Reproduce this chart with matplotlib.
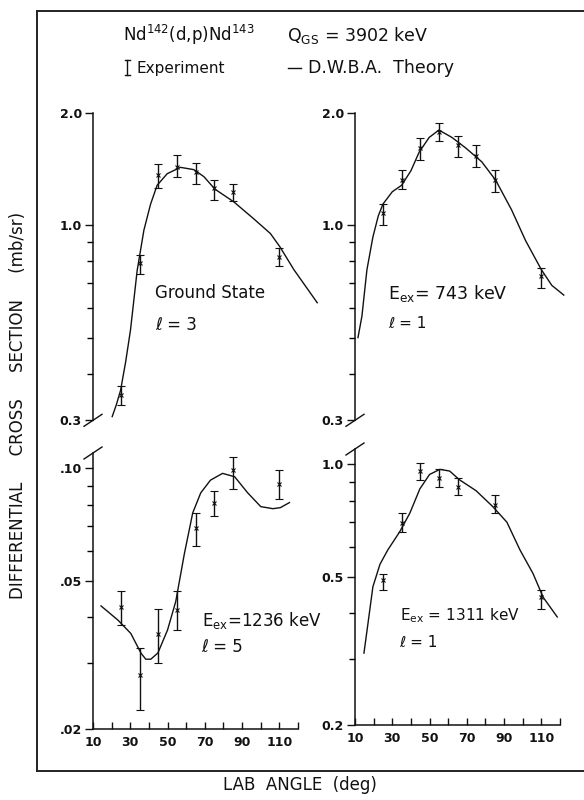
import numpy as np
import matplotlib.pyplot as plt
from matplotlib.lines import Line2D
from matplotlib.ticker import FixedLocator, FixedFormatter, NullFormatter

plt.rcParams['font.family'] = ['DejaVu Sans']
plt.rcParams['mathtext.fontset'] = 'dejavusans'

# measured angles (deg)
angles = [25, 35, 45, 55, 65, 75, 85, 110]
angles_1311 = [25, 35, 45, 55, 65, 85, 110]

# ground state, l=3
gs_val = [0.35, 0.79, 1.36, 1.43, 1.39, 1.26, 1.23, 0.82]
gs_lo = [0.33, 0.74, 1.26, 1.35, 1.29, 1.17, 1.16, 0.78]
gs_hi = [0.37, 0.83, 1.46, 1.54, 1.47, 1.32, 1.29, 0.87]
gs_th_ang = [20.3, 22.5, 24.8, 27.5, 30.1, 33.7, 37.3, 40.9, 44.4, 49.8, 56.9, 64.1, 69.5,
             75.4, 85.6, 96.3, 105.2, 110.3, 117.8, 130.3]
gs_th_val = [0.307, 0.33, 0.361, 0.43, 0.523, 0.757, 0.97, 1.14, 1.28, 1.375, 1.43, 1.41, 1.35,
             1.25, 1.155, 1.04, 0.95, 0.875, 0.76, 0.62]

# Eex = 743 keV, l=1
e743_val = [1.08, 1.32, 1.61, 1.78, 1.64, 1.53, 1.32, 0.73]
e743_lo = [1.00, 1.25, 1.50, 1.68, 1.52, 1.43, 1.23, 0.68]
e743_hi = [1.14, 1.41, 1.71, 1.88, 1.74, 1.64, 1.41, 0.77]
e743_th_ang = [11.6, 13.7, 16.4, 19.6, 22.5, 25, 30, 35, 40, 44.4, 49.8, 55, 62, 69.5,
               78, 85.5, 94, 101.5, 110, 115.6, 122]
e743_th_val = [0.50, 0.57, 0.76, 0.93, 1.06, 1.14, 1.23, 1.28, 1.40, 1.57, 1.72, 1.80, 1.72,
               1.61, 1.48, 1.32, 1.10, 0.91, 0.76, 0.69, 0.65]

# Eex = 1236 keV, l=5
e1236_val = [0.0425, 0.028, 0.036, 0.0417, 0.0692, 0.0807, 0.099, 0.091]
e1236_lo = [0.038, 0.0225, 0.030, 0.037, 0.062, 0.0745, 0.088, 0.083]
e1236_hi = [0.047, 0.033, 0.042, 0.047, 0.076, 0.087, 0.107, 0.099]
e1236_th_ang = [14.3, 23.4, 30.3, 35.7, 38.3, 41, 44.8, 50, 54.4, 59, 63.5, 67.8,
                73, 79.5, 86, 93, 100, 106.5, 110.5, 115.4]
e1236_th_val = [0.0428, 0.0392, 0.0361, 0.0320, 0.0308, 0.0308, 0.032, 0.0369, 0.044,
                0.059, 0.076, 0.086, 0.093, 0.097, 0.095, 0.086, 0.079, 0.078, 0.0785, 0.081]

# Eex = 1311 keV, l=1
e1311_val = [0.49, 0.697, 0.96, 0.92, 0.87, 0.78, 0.44]
e1311_lo = [0.46, 0.66, 0.91, 0.87, 0.83, 0.74, 0.41]
e1311_hi = [0.51, 0.74, 1.01, 0.97, 0.92, 0.83, 0.46]
e1311_th_ang = [14.8, 17, 19.6, 23.4, 27.6, 34, 39.4, 44.8, 50, 55.5, 60.8, 66, 75,
                84, 91.5, 98.5, 105.5, 111, 118.5]
e1311_th_val = [0.312, 0.376, 0.47, 0.54, 0.59, 0.66, 0.74, 0.86, 0.94, 0.97, 0.96,
                0.91, 0.85, 0.77, 0.70, 0.59, 0.51, 0.44, 0.39]

top_ticks = [0.3, 1.0, 2.0]
top_labels = ['0.3', '1.0', '2.0']
top_minor = [0.4, 0.5, 0.6, 0.7, 0.8, 0.9]
bl_ticks = [0.02, 0.05, 0.10]
bl_labels = ['.02', '.05', '.10']
bl_minor = [0.03, 0.04, 0.06, 0.07, 0.08, 0.09]
br_ticks = [0.2, 0.5, 1.0]
br_labels = ['0.2', '0.5', '1.0']
br_minor = [0.3, 0.4, 0.6, 0.7, 0.8, 0.9]
x_labels = [10, 30, 50, 70, 90, 110]
x_minor = [20, 40, 60, 80, 100, 120]

W, H = 584, 800
PPD = 1.864      # px per degree
PPDEC = 373.0    # px per decade
ink = '#111111'

fig = plt.figure(figsize=(W / 100, H / 100), dpi=100)


def add_px_axes(x0, ytop, xmax, ylim):
    x1 = x0 + (xmax - 10) * PPD
    ybot = ytop + PPDEC * np.log10(ylim[1] / ylim[0])
    return fig.add_axes([x0 / W, 1 - ybot / H, (x1 - x0) / W, (ybot - ytop) / H])


def style(ax, ticks, labels, minor, bottom_axis):
    ax.set_yscale('log')
    ax.yaxis.set_major_locator(FixedLocator(ticks))
    ax.yaxis.set_major_formatter(FixedFormatter(labels))
    ax.yaxis.set_minor_locator(FixedLocator(minor))
    ax.yaxis.set_minor_formatter(NullFormatter())
    ax.tick_params(axis='y', which='major', direction='out', length=6, width=1.0,
                   labelsize=9, colors=ink, pad=2)
    ax.tick_params(axis='y', which='minor', direction='out', length=4, width=1.0)
    for lab in ax.get_yticklabels():
        lab.set_fontweight('bold')
    ax.spines['top'].set_visible(False)
    ax.spines['right'].set_visible(False)
    ax.spines['left'].set_color(ink)
    ax.spines['left'].set_linewidth(1.1)
    ax.patch.set_alpha(0)
    if bottom_axis:
        ax.spines['bottom'].set_color(ink)
        ax.spines['bottom'].set_linewidth(1.1)
        ax.xaxis.set_major_locator(FixedLocator(x_labels))
        ax.xaxis.set_minor_locator(FixedLocator(x_minor))
        ax.tick_params(axis='x', which='both', direction='in', length=5, width=1.0,
                       labelsize=9, colors=ink, pad=5)
        for lab in ax.get_xticklabels():
            lab.set_fontweight('bold')
    else:
        ax.spines['bottom'].set_visible(False)
        ax.set_xticks([])


def brk(ax, yfrac):
    bb = ax.get_position()
    dx = 9 / (bb.width * W)
    dy = 6 / (bb.height * H)
    ax.plot([-dx, dx], [yfrac - dy, yfrac + dy], transform=ax.transAxes,
            color=ink, lw=1.0, clip_on=False)


def draw(ax, xs, val, lo, hi, th_x, th_y):
    val = np.array(val)
    err = [val - np.array(lo), np.array(hi) - val]
    ax.plot(th_x, th_y, color=ink, lw=1.0)
    ax.errorbar(xs, val, yerr=err, fmt='x', ms=2.5, mew=0.8, color=ink,
                ecolor=ink, elinewidth=1.0, capsize=2.8, capthick=1.0)


ax_gs = add_px_axes(93, 113, 140, (0.3, 2.0))
ax_gs.set_xlim(10, 140)
ax_gs.set_ylim(0.3, 2.0)
draw(ax_gs, angles, gs_val, gs_lo, gs_hi, gs_th_ang, gs_th_val)
style(ax_gs, top_ticks, top_labels, top_minor, False)
brk(ax_gs, 0.0)

ax_743 = add_px_axes(355, 113, 125, (0.3, 2.0))
ax_743.set_xlim(10, 125)
ax_743.set_ylim(0.3, 2.0)
draw(ax_743, angles, e743_val, e743_lo, e743_hi, e743_th_ang, e743_th_val)
style(ax_743, top_ticks, top_labels, top_minor, False)
brk(ax_743, 0.0)

ax_1236 = add_px_axes(93, 453, 120, (0.02, 0.11))
ax_1236.set_xlim(10, 120)
ax_1236.set_ylim(0.02, 0.11)
draw(ax_1236, angles, e1236_val, e1236_lo, e1236_hi, e1236_th_ang, e1236_th_val)
style(ax_1236, bl_ticks, bl_labels, bl_minor, True)
brk(ax_1236, 1.0)

ax_1311 = add_px_axes(355, 449, 120, (0.2, 1.1))
ax_1311.set_xlim(10, 120)
ax_1311.set_ylim(0.2, 1.1)
draw(ax_1311, angles_1311, e1311_val, e1311_lo, e1311_hi, e1311_th_ang, e1311_th_val)
style(ax_1311, br_ticks, br_labels, br_minor, True)
brk(ax_1311, 1.0)

fs = 12
ax_gs.text(0.255, 0.414, 'Ground State', transform=ax_gs.transAxes, fontsize=fs,
           va='center', color=ink)
ax_gs.text(0.255, 0.309, '\u2113 = 3', transform=ax_gs.transAxes, fontsize=fs,
           va='center', color=ink)
ax_743.text(0.154, 0.414, r'E$_{\mathrm{ex}}$= 743 keV', transform=ax_743.transAxes,
            fontsize=fs + 0.5, va='center', color=ink)
ax_743.text(0.154, 0.316, '\u2113 = 1', transform=ax_743.transAxes, fontsize=fs - 1,
            va='center', color=ink)
ax_1236.text(0.53, 0.395, r'E$_{\mathrm{ex}}$=1236 keV', transform=ax_1236.transAxes,
             fontsize=fs, va='center', color=ink)
ax_1236.text(0.53, 0.298, '\u2113 = 5', transform=ax_1236.transAxes, fontsize=fs,
             va='center', color=ink)
ax_1311.text(0.218, 0.395, r'E$_{\mathrm{ex}}$ = 1311 keV', transform=ax_1311.transAxes,
             fontsize=fs - 1, va='center', color=ink)
ax_1311.text(0.218, 0.298, '\u2113 = 1', transform=ax_1311.transAxes, fontsize=fs - 1,
             va='center', color=ink)

# header and legend
fig.text(123 / W, 1 - 35 / H, r'Nd$^{142}$(d,p)Nd$^{143}$', fontsize=12, va='center', color=ink)
fig.text(287 / W, 1 - 35 / H, r'Q$_{\mathrm{GS}}$ = 3902 keV', fontsize=12.5, va='center', color=ink)
ex, ey0, ey1 = 127 / W, 1 - 60 / H, 1 - 75 / H
fig.add_artist(Line2D([ex, ex], [ey0, ey1], color=ink, lw=1.0))
for yy in (ey0, ey1):
    fig.add_artist(Line2D([ex - 2.5 / W, ex + 2.5 / W], [yy, yy], color=ink, lw=1.0))
fig.text(137 / W, 1 - 68 / H, 'Experiment', fontsize=11, va='center', color=ink)
fig.add_artist(Line2D([288 / W, 301 / W], [1 - 68 / H, 1 - 68 / H], color=ink, lw=1.0))
fig.text(308 / W, 1 - 68 / H, 'D.W.B.A.  Theory', fontsize=12.5, va='center', color=ink)

# frame
fl, ft, fb = 37 / W, 1 - 11 / H, 1 - 771 / H
for xs_, ys_ in (([fl, fl], [fb, ft]), ([fl, 1.0], [ft, ft]), ([fl, 1.0], [fb, fb])):
    fig.add_artist(Line2D(xs_, ys_, color='#222222', lw=1.4))

fig.text(18 / W, 1 - 405 / H, 'DIFFERENTIAL     CROSS     SECTION     (mb/sr)', rotation=90,
         fontsize=12, ha='center', va='center', color=ink)
fig.text(300 / W, 1 - 785 / H, 'LAB  ANGLE  (deg)', fontsize=12, ha='center',
         va='center', color=ink)

fig.savefig('out.png', dpi=100, facecolor='white')
